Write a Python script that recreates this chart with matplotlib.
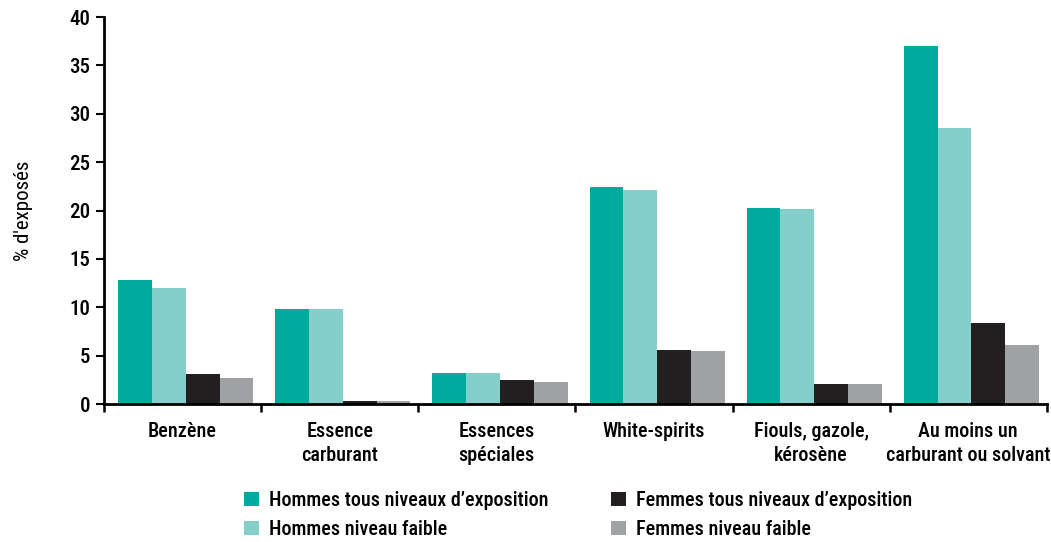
import numpy as np
import matplotlib
matplotlib.use("Agg")
import matplotlib.pyplot as plt
from matplotlib.patches import Patch

plt.rcParams['font.family'] = ['Liberation Sans Narrow', 'DejaVu Sans Condensed',
                               'Roboto Condensed', 'Lato', 'DejaVu Sans']
plt.rcParams['font.weight'] = 500

# data
categories = ["Benzène", "Essence\ncarburant", "Essences\nspéciales",
              "White-spirits", "Fiouls, gazole,\nkérosène",
              "Au moins un\ncarburant ou solvant"]
hommes_tous = [12.8, 9.8, 3.2, 22.4, 20.3, 37.0]
hommes_faible = [12.0, 9.8, 3.2, 22.1, 20.2, 28.5]
femmes_tous = [3.1, 0.3, 2.5, 5.6, 2.1, 8.4]
femmes_faible = [2.7, 0.3, 2.3, 5.5, 2.1, 6.1]
series_labels = ["Hommes tous niveaux d\u2019exposition", "Hommes niveau faible",
                 "Femmes tous niveaux d\u2019exposition", "Femmes niveau faible"]
colors = ["#00aa9f", "#84cfca", "#231f20", "#a0a1a5"]
yticks = [0, 5, 10, 15, 20, 25, 30, 35, 40]

fig = plt.figure(figsize=(10.51, 5.42), dpi=100)
ax = fig.add_axes([0.099, 0.2546, 0.897, 0.714])

series = [hommes_tous, hommes_faible, femmes_tous, femmes_faible]
x = np.arange(len(categories))
w = 0.215
for i, vals in enumerate(series):
    ax.bar(x + 0.02 + (i - 1.5) * w, vals, width=w, color=colors[i], linewidth=0)

ax.set_xlim(-0.5, len(categories) - 0.5)
ax.set_ylim(0, 40)
ax.set_yticks(yticks)
ax.set_yticklabels([str(t) for t in yticks], fontsize=15)

# boundary ticks on x axis, labels centred
ax.set_xticks(np.arange(len(categories) + 1) - 0.5)
ax.set_xticklabels([])
ax.set_xticks(x, minor=True)
ax.set_xticklabels(categories, minor=True, fontsize=14.5, linespacing=1.35)
ax.tick_params(axis='x', which='minor', length=0, pad=13)
ax.tick_params(axis='x', which='major', length=6, width=1.8, direction='out')
ax.tick_params(axis='y', length=6, width=1.5, pad=4)

for s in ['top', 'right']:
    ax.spines[s].set_visible(False)
for s in ['left', 'bottom']:
    ax.spines[s].set_linewidth(2)

ax.set_ylabel("% d'exposés", fontsize=15, labelpad=26)

handles = [Patch(facecolor=c, edgecolor='none') for c in colors]
fig.legend(handles, series_labels, ncol=2, loc='lower left',
           bbox_to_anchor=(0.215, -0.028), frameon=False, fontsize=14.5,
           handlelength=0.75, handleheight=0.75, handletextpad=0.5,
           columnspacing=3.1, labelspacing=0.5)

fig.savefig("out.png", dpi=100)
